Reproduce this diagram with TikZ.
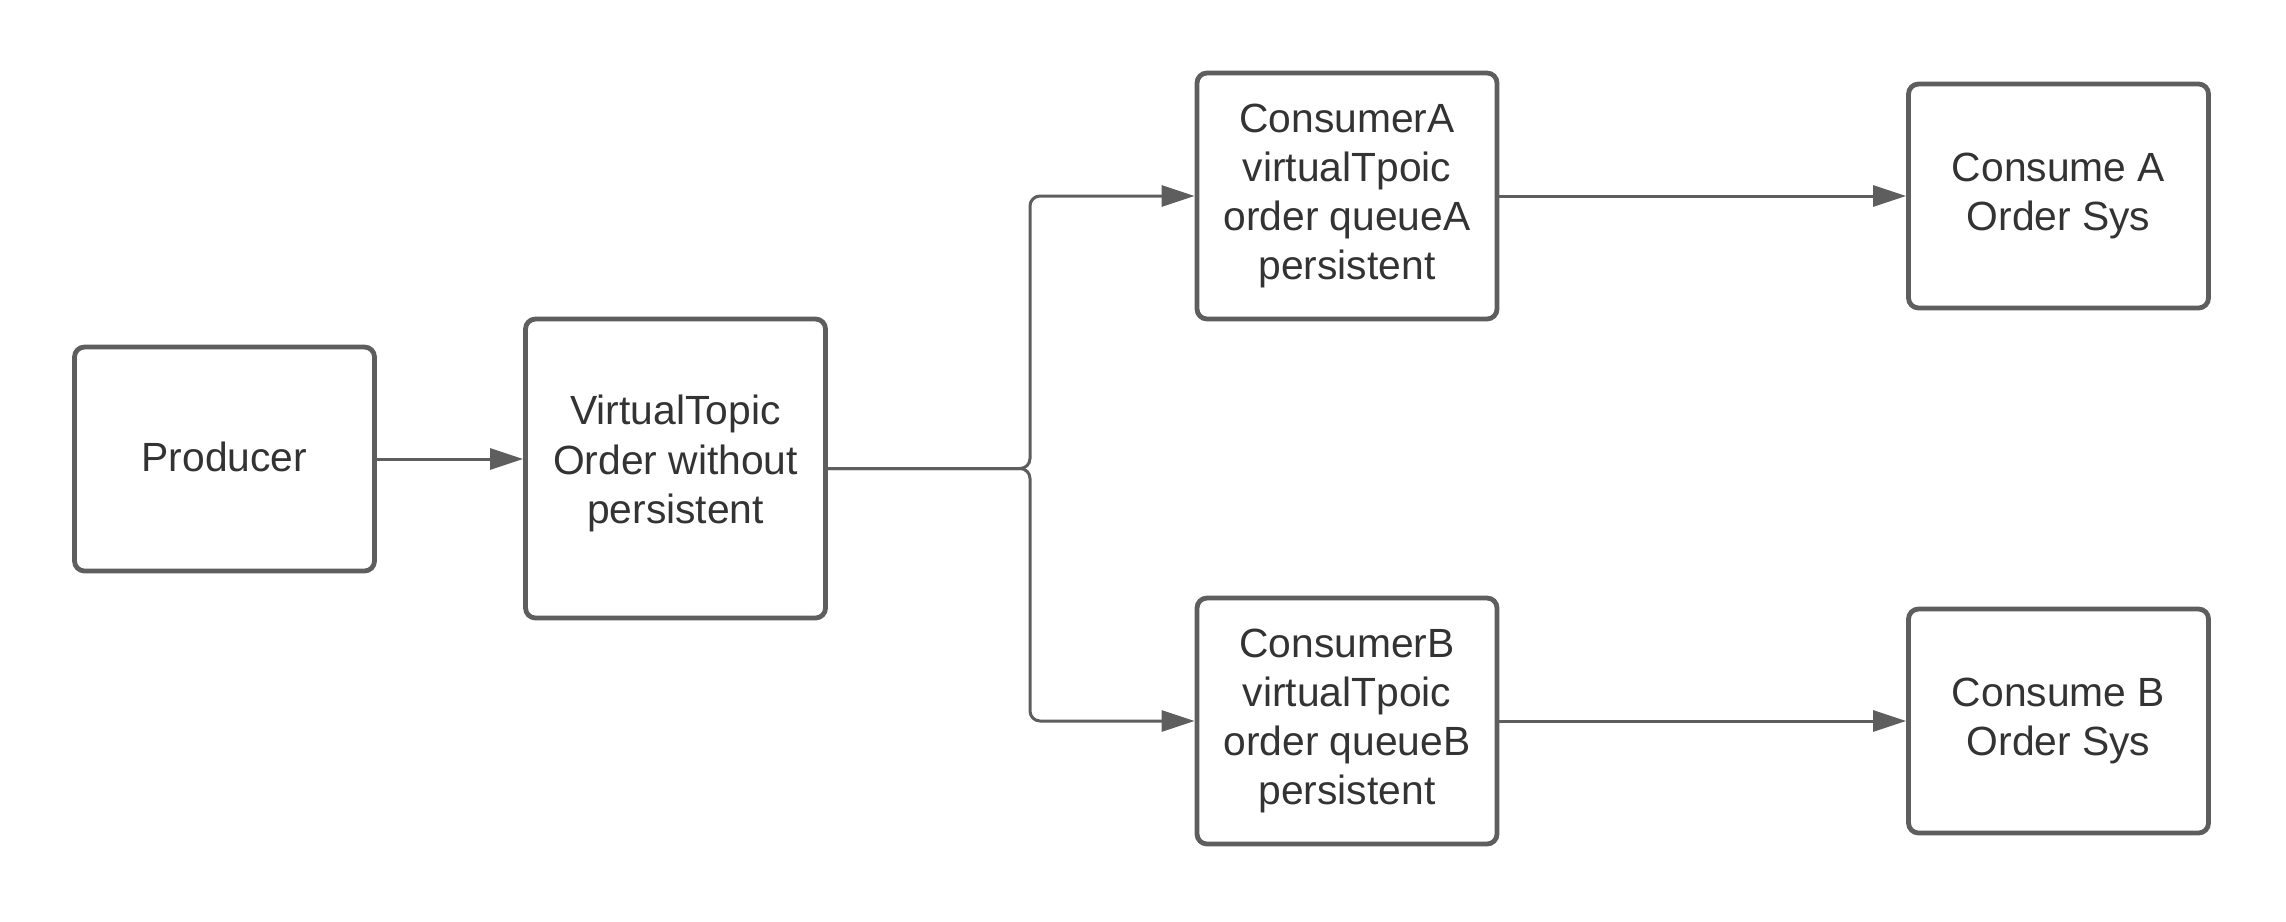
\documentclass[tikz,border=0pt]{standalone}
\usepackage{fontspec}
\setmainfont{Liberation Sans}
\usetikzlibrary{arrows.meta}
\definecolor{linegray}{HTML}{5E5E5E}
\definecolor{textgray}{HTML}{333333}
\tikzset{
  box/.style={draw=linegray, line width=2.4pt, rounded corners=5pt, fill=white,
    minimum width=150pt, align=center, text=textgray, inner sep=0pt,
    font=\fontsize{20.4pt}{24.6pt}\selectfont},
  conn/.style={draw=linegray, line width=1.5pt, rounded corners=5pt,
    -{Triangle[length=16.5pt,width=10.5pt]}}
}
\begin{document}
\begin{tikzpicture}[x=0.5pt,y=-0.5pt]
\useasboundingbox (0,0) rectangle (2286,921);
\node[box, minimum height=112pt] (prod) at (224.5,459) {\raisebox{1pt}[\height][\depth]{Producer}};
\node[box, minimum height=149.5pt] (vt) at (675.5,468.5) {\raisebox{2.5pt}[\height][\depth]{\parbox{140pt}{\centering VirtualTopic\\Order without\\persistent}}};
\node[box, minimum height=123pt] (ca) at (1347,196) {ConsumerA\\virtualTpoic\\order queueA\\persistent};
\node[box, minimum height=123pt] (cb) at (1347,721) {ConsumerB\\virtualTpoic\\order queueB\\persistent};
\node[box, minimum height=112pt] (oa) at (2058.5,196) {Consume A\\Order Sys};
\node[box, minimum height=112pt] (ob) at (2058.5,721) {Consume B\\Order Sys};
\coordinate (j) at (1030,468.5);
\draw[conn] (prod.east) -- (prod.east -| vt.west);
\draw[conn] (vt.east) -- (j) |- (ca.west);
\draw[conn] (vt.east) -- (j) |- (cb.west);
\draw[conn] (ca.east) -- (oa.west);
\draw[conn] (cb.east) -- (ob.west);
\end{tikzpicture}
\end{document}
